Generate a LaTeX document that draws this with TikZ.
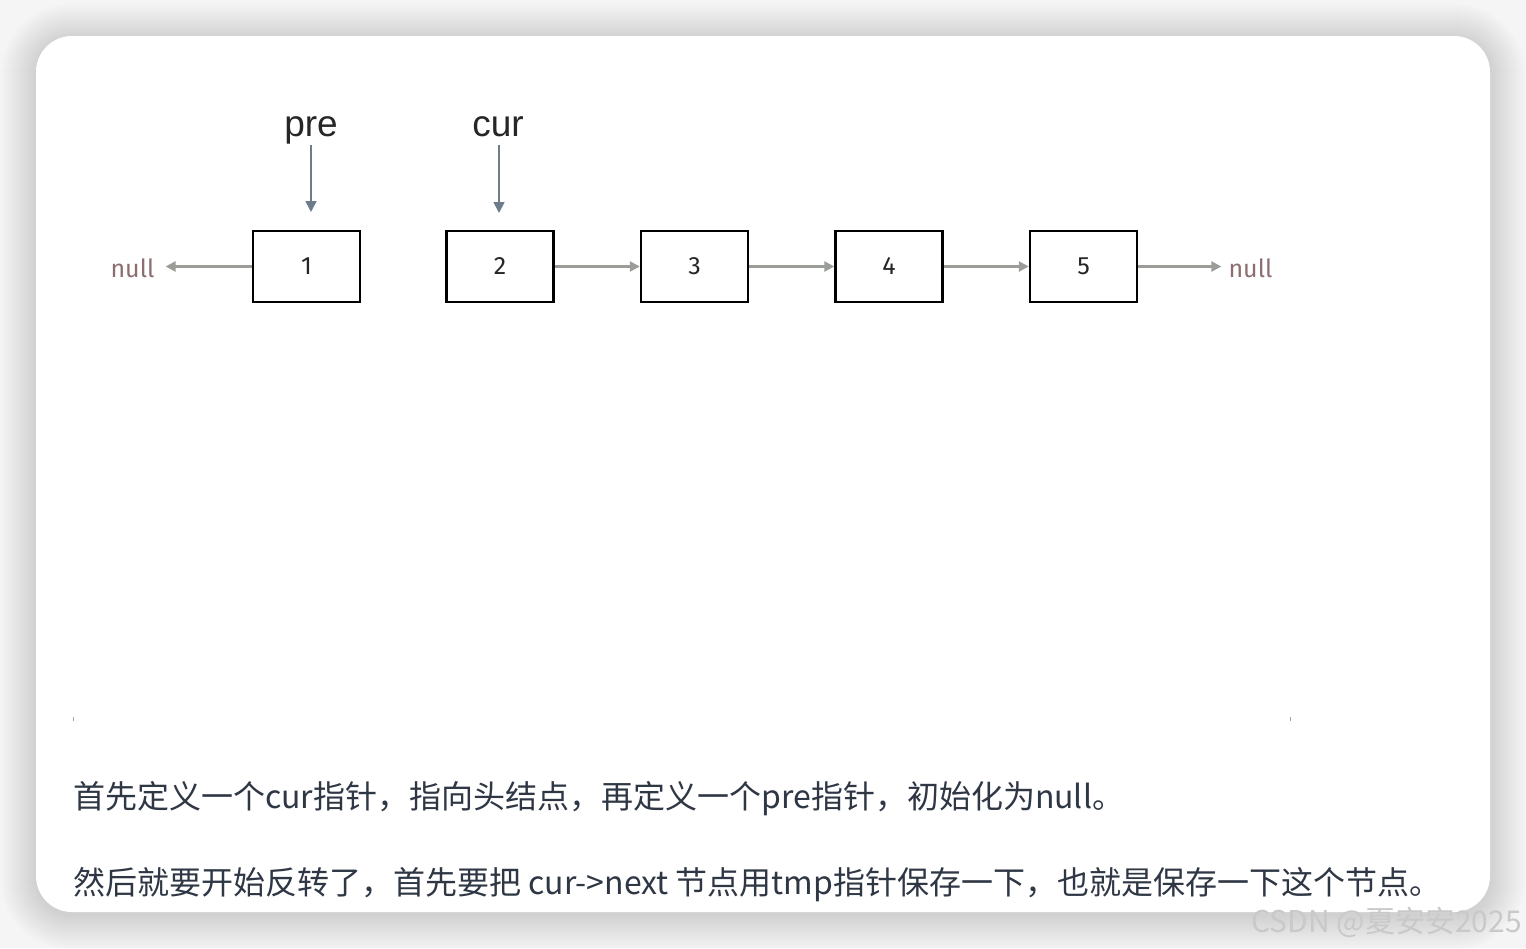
\documentclass[tikz,border=0pt]{standalone}
\usepackage{fontspec}
\setmainfont{Liberation Sans}
\newfontfamily\cjk{Noto Sans CJK SC}
\newfontfamily\numfont{Fira Sans}
\usetikzlibrary{arrows.meta}
\definecolor{txt}{HTML}{2F3745}
\definecolor{arr}{HTML}{9B9D99}
\definecolor{ptr}{HTML}{6E7B8B}
\definecolor{nullc}{HTML}{8C6E70}
\definecolor{wm}{HTML}{C9C9C9}
\tikzset{
  lnode/.style={draw=black, line width=2.4pt, fill=white, minimum width=107pt, minimum height=71pt, inner sep=0pt, font=\numfont\fontsize{25}{28}\selectfont, text=black!85},
  nulltxt/.style={inner sep=0pt, font=\numfont\fontsize{25}{30}\selectfont, text=nullc},
  ptrtxt/.style={inner sep=0pt, anchor=base, font=\fontsize{37}{40}\selectfont, text=black!85},
  garrow/.style={draw=arr, line width=2.4pt, -{Triangle[length=10pt,width=10pt]}},
  parrow/.style={draw=ptr, line width=1.6pt, -{Triangle[length=11pt,width=11pt]}},
  para/.style={inner sep=0pt, anchor=base west, font=\cjk\fontsize{32}{36}\selectfont, text=txt},
}
\begin{document}
\begin{tikzpicture}[x=1pt,y=-1pt]
\useasboundingbox (0,0) rectangle (1526,948);
\fill[white!96!black] (0,0) rectangle (1526,948);
% shadow
\foreach \i in {1,...,36}{
  \fill[black, opacity=0.0045, rounded corners=36pt+\i pt] (36-\i,36-\i+3) rectangle (1490+\i,912+\i+3);
}
% card
\fill[white, rounded corners=36pt] (36,36) rectangle (1490,912);

% list nodes
\node[lnode] (n1) at (306.5,266.5) {1};
\node[lnode] (n2) at (500,266.5) {2};
\node[lnode] (n3) at (694.5,266.5) {3};
\node[lnode] (n4) at (889,266.5) {4};
\node[lnode] (n5) at (1083.5,266.5) {5};

\node[nulltxt] (nl) at (132.5,268) {null};
\node[nulltxt] (nr) at (1250.5,268) {null};

\draw[garrow, shorten >=11pt] (n1.west) -- (n1.west -| nl.east);
\draw[garrow] (n2) -- (n3);
\draw[garrow] (n3) -- (n4);
\draw[garrow] (n4) -- (n5);
\draw[garrow, shorten >=7pt] (n5.east) -- (n5.east -| nr.west);

% pointers
\node[ptrtxt] (pre) at (311,136) {pre};
\node[ptrtxt] (cur) at (498,136) {cur};
\coordinate (pe) at (311,212);
\coordinate (ce) at (499,213);
\draw[parrow, shorten <=1pt] (pre.south -| pe) -- (pe);
\draw[parrow, shorten <=9pt] (cur.base -| ce) -- (ce);

% tiny marks
\draw[black!35, line width=1pt] (73,717) -- (73,721);
\draw[black!35, line width=1pt] (1290,717) -- (1290,721);

% text
\node[para] (t1) at (73,808) {首先定义一个cur指针，指向头结点，再定义一个pre指针，初始化为null。};
\node[para] (t2) at (73,894) {然后就要开始反转了，首先要把 cur->next 节点用tmp指针保存一下，也就是保存一下这个节点。};

% watermark
\node[inner sep=0pt, anchor=base east, font=\cjk\fontsize{30}{32}\selectfont, text=wm] (wmk) at (1522,932) {CSDN @夏安安2025};
\end{tikzpicture}
\end{document}
